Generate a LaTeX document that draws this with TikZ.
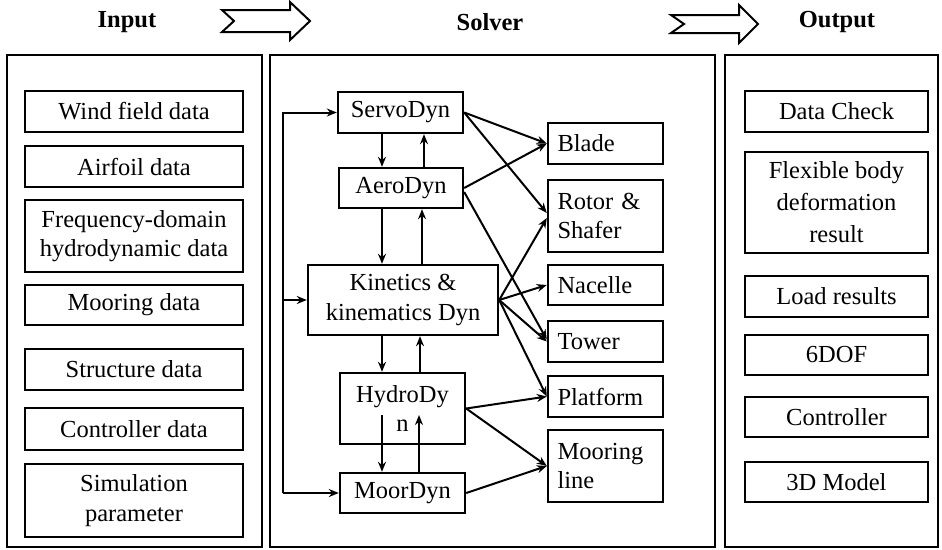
\documentclass[tikz,border=0pt]{standalone}
\usepackage{fontspec}
\setmainfont{Liberation Serif}
\usetikzlibrary{arrows.meta,calc}

\begin{document}
\begin{tikzpicture}[x=1pt,y=-1pt,
  txt/.style={font=\fontsize{24.5}{29.5}\selectfont},
  head/.style={font=\fontsize{24.5}{29.5}\selectfont\bfseries},
  panel/.style={draw,line width=2pt},
  box/.style={draw,line width=2.4pt,txt,align=center,inner sep=2pt},
  lbox/.style={draw,line width=2.4pt,txt,align=left,inner xsep=9pt,text width=96pt,minimum width=115pt},
  flow/.style={draw,line width=2pt,fill=white,line join=miter},
  link/.style={line width=2pt,-{Stealth[length=10pt,width=8pt]}}
]
\useasboundingbox (0,0) rectangle (942,549);

% column headings
\node[head] (hin)  at (127,22) {Input};
\node[head] (hsol) at (490,22) {Solver};
\node[head] (hout) at (837,22) {Output};

% hollow flow arrows between the headings
\draw[flow] (222,10) -- (290,10) -- (290,2) -- (310,21) -- (290,40) -- (290,32) -- (222,32) -- (234,21) -- cycle;
\draw[flow] (671,15) -- (739,15) -- (739,5) -- (758,24) -- (739,43) -- (739,33) -- (671,33) -- (684,24) -- cycle;

% the three panels
\draw[panel] (7,55) rectangle (262,547);
\draw[panel] (270,55) rectangle (715,547);
\draw[panel] (725,55) rectangle (938,547);

% input items
\node[box,minimum width=218pt,minimum height=41pt] (wind) at (134,111.5) {Wind field data};
\node[box,minimum width=218pt,minimum height=41pt] (foil) at (134,166.5) {Airfoil data};
\node[box,minimum width=218pt,minimum height=72pt] (freq) at (134,236) {Frequency-domain\\hydrodynamic data};
\node[box,minimum width=218pt,minimum height=40pt] (moor) at (134,305) {Mooring data};
\node[box,minimum width=218pt,minimum height=41pt] (struct) at (134,369.5) {Structure data};
\node[box,minimum width=218pt,minimum height=42pt] (ctrl) at (134,429) {Controller data};
\node[box,minimum width=218pt,minimum height=73pt] (sim) at (134,500.5) {Simulation\\parameter};

% output items
\node[box,minimum width=183pt,minimum height=41pt] (check) at (836.5,111.5) {Data Check};
\node[box,minimum width=183pt,minimum height=101pt,font=\fontsize{24.5}{32}\selectfont] (flex) at (836.5,202.5) {Flexible body\\deformation\\result};
\node[box,minimum width=183pt,minimum height=41pt] (load) at (836.5,296.5) {Load results};
\node[box,minimum width=183pt,minimum height=40pt] (dof) at (836.5,355) {6DOF};
\node[box,minimum width=183pt,minimum height=40pt] (octrl) at (836.5,417) {Controller};
\node[box,minimum width=183pt,minimum height=40pt] (model) at (836.5,482) {3D Model};

% solver modules
\node[box,minimum width=125pt,minimum height=41pt] (servo) at (400.5,112.5) {ServoDyn};
\node[box,minimum width=124pt,minimum height=40pt] (aero) at (401,188) {AeroDyn};
\node[box,minimum width=190pt,minimum height=70pt] (kin) at (403,300) {Kinetics \&\\kinematics Dyn};
\node[box,minimum width=125pt,minimum height=71pt] (hydro) at (402.5,408.5) {HydroDy\\n};
\node[box,minimum width=125pt,minimum height=40pt] (moordyn) at (402.5,493) {MoorDyn};

% structural components
\node[lbox,minimum height=41pt] (blade) at (605.5,143.5) {Blade};
\node[lbox,minimum height=72pt] (rotor) at (605.5,216) {Rotor \&\\Shafer};
\node[lbox,minimum height=40pt] (nacelle) at (605.5,285) {Nacelle};
\node[lbox,minimum height=41pt] (tower) at (605.5,341.5) {Tower};
\node[lbox,minimum height=41pt] (platform) at (605.5,396.5) {Platform};
\node[lbox,minimum height=72pt] (mline) at (605.5,466) {Mooring\\line};

% columns of the vertical links
\coordinate (dn) at (382,0);
\coordinate (upa) at (424,0);
\coordinate (upb) at (422,0);
\coordinate (upc) at (420,0);
\coordinate (upd) at (419,0);
\coordinate (fb) at (283,0);
\coordinate (hin1) at (0,415);

% vertical exchange between modules
\draw[link] (servo.south -| dn) -- (aero.north -| dn);
\draw[link] (aero.north -| upa) -- (servo.south -| upa);
\draw[link] (aero.south -| dn) -- (kin.north -| dn);
\draw[link] (kin.north -| upb) -- (aero.south -| upb);
\draw[link] (kin.south -| dn) -- (hydro.north -| dn);
\draw[link] (hydro.north -| upc) -- (kin.south -| upc);
\draw[link] (dn |- hin1) -- (moordyn.north -| dn);
\draw[link] (moordyn.north -| upd) -- (upd |- hin1);

% feedback bus on the left
\draw[link] (fb |- moordyn.west) -- (fb |- servo.west) -- (servo.west);
\draw[link] (fb |- moordyn.west) -- (moordyn.west);
\draw[link] (fb |- kin.west) -- (kin.west);

% module to component links
\draw[link] (servo.east) -- (blade.west);
\draw[link] (servo.east) -- ($(rotor.west)+(0,-3)$);
\draw[link] (aero.east) -- (blade.west);
\draw[link] ($(aero.east)+(0,4)$) -- ($(tower.west)+(0,-2)$);
\draw[link] (kin.east) -- ($(rotor.west)+(0,2)$);
\draw[link] (kin.east) -- (nacelle.west);
\draw[link] (kin.east) -- (tower.west);
\draw[link] (kin.east) -- (platform.west);
\draw[link] (hydro.east) -- (platform.west);
\draw[link] (hydro.east) -- (mline.west);
\draw[link] (moordyn.east) -- (mline.west);
\end{tikzpicture}
\end{document}
